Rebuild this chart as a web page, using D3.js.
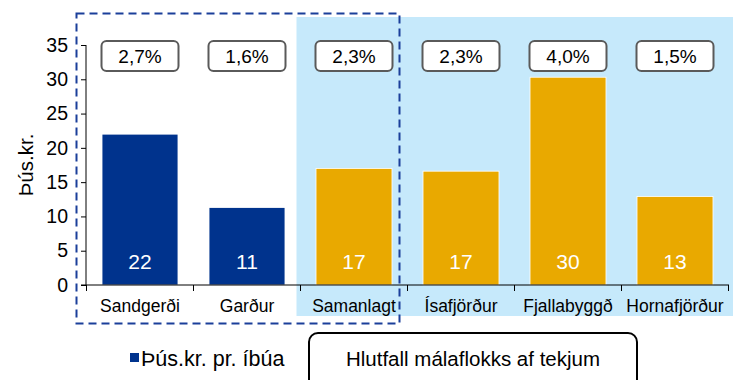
<!DOCTYPE html>
<html>
<head>
<meta charset="utf-8">
<script src="https://cdn.jsdelivr.net/npm/d3@7/dist/d3.min.js"></script>
<style>
  html, body { margin: 0; padding: 0; background: #fff; }
  svg { display: block; font-family: "Liberation Sans", Arial, sans-serif; }
</style>
</head>
<body>
<svg id="chart" width="733" height="380"></svg>
<script>
// Municipal cost per inhabitant (thousand ISK) and share of revenue
const categories = ["Sandgerði", "Garður", "Samanlagt", "Ísafjörður", "Fjallabyggð", "Hornafjörður"];
const perCapita = [22.0, 11.3, 17.0, 16.6, 30.3, 12.9];
const shareLabels = ["2,7%", "1,6%", "2,3%", "2,3%", "4,0%", "1,5%"];
const groups = ["own", "own", "comp", "comp", "comp", "comp"];
const yTicks = [0, 5, 10, 15, 20, 25, 30, 35];
const legendSeries = "Þús.kr. pr. íbúa";
const legendNote = "Hlutfall málaflokks af tekjum";
const yTitle = "Þús.kr.";

const navy = "#00338D";
const gold = "#E9A900";
const pale = "#C6E9FB";

const svg = d3.select("#chart");

const x = d3.scaleBand().domain(categories).range([86.5, 728.5]).paddingInner(0.29).paddingOuter(0.145);
const y = d3.scaleLinear().domain([0, 35]).range([285, 45]);

// Comparison-area backdrop
svg.append("rect")
  .attr("x", x("Samanlagt") - x.step() * 0.145 - 4).attr("y", 17)
  .attr("width", 733).attr("height", 299)
  .attr("fill", pale);

// Bars
svg.selectAll("rect.bar").data(categories).join("rect")
  .attr("class", "bar")
  .attr("x", d => x(d))
  .attr("y", (d, i) => y(perCapita[i]))
  .attr("width", x.bandwidth())
  .attr("height", (d, i) => y(0) - y(perCapita[i]))
  .attr("fill", (d, i) => groups[i] === "own" ? navy : gold)
  .attr("stroke", "#ffffff").attr("stroke-width", 0.8);

// Value labels inside the bars
svg.selectAll("text.val").data(categories).join("text")
  .attr("class", "val")
  .attr("x", d => x(d) + x.bandwidth() / 2)
  .attr("y", 269)
  .attr("text-anchor", "middle")
  .attr("font-size", 21)
  .attr("fill", "#fff")
  .text((d, i) => d3.format(".0f")(perCapita[i]));

// Share-of-revenue boxes
const boxes = svg.selectAll("g.share").data(categories).join("g").attr("class", "share")
  .attr("transform", d => `translate(${x(d) + x.bandwidth() / 2},56)`);
boxes.append("rect")
  .attr("x", -38.5).attr("y", -15).attr("width", 77).attr("height", 30)
  .attr("rx", 5).attr("fill", "#fff").attr("stroke", "#5a5a5a").attr("stroke-width", 2);
boxes.append("text")
  .attr("y", 7).attr("text-anchor", "middle").attr("font-size", 19).attr("fill", "#000")
  .text((d, i) => shareLabels[i]);

// Y axis
const yAxis = svg.append("g").attr("transform", "translate(86,0)")
  .call(d3.axisLeft(y).tickValues(yTicks).tickSize(5).tickPadding(13));
yAxis.select(".domain").attr("stroke", "#000").attr("d", "M0,45V285");
yAxis.selectAll(".tick line").attr("stroke", "#000");
yAxis.selectAll(".tick text").attr("font-size", 19.5).attr("fill", "#000")
  .attr("font-family", "'Liberation Sans', Arial, sans-serif");

// X axis with boundary ticks
const xAxis = svg.append("g").attr("transform", "translate(0,285)");
xAxis.append("line").attr("x1", 81).attr("x2", 729).attr("stroke", "#000");
xAxis.selectAll("line.tk").data(d3.range(categories.length + 1)).join("line")
  .attr("class", "tk")
  .attr("x1", i => 86.5 + i * x.step()).attr("x2", i => 86.5 + i * x.step())
  .attr("y1", 0).attr("y2", 6).attr("stroke", "#000");
xAxis.selectAll("text").data(categories).join("text")
  .attr("x", d => x(d) + x.bandwidth() / 2)
  .attr("y", 26.5)
  .attr("text-anchor", "middle")
  .attr("font-size", 17.5)
  .attr("fill", "#000")
  .text(d => d);

// Y axis title
svg.append("text")
  .attr("transform", "translate(33,165) rotate(-90)")
  .attr("text-anchor", "middle").attr("font-size", 20.5).attr("fill", "#000")
  .text(yTitle);

// Dashed frame around the own-municipality group
svg.append("rect")
  .attr("x", 76.5).attr("y", 13.5).attr("width", 323).attr("height", 310)
  .attr("fill", "none").attr("stroke", "#1B3F9A").attr("stroke-width", 2)
  .attr("stroke-dasharray", "8,5");

// Legend
svg.append("rect").attr("x", 130).attr("y", 353).attr("width", 9).attr("height", 9).attr("fill", navy);
svg.append("text").attr("x", 141).attr("y", 366).attr("font-size", 21.5).attr("fill", "#000").text(legendSeries);
svg.append("rect")
  .attr("x", 309).attr("y", 333).attr("width", 328).attr("height", 60)
  .attr("rx", 9).attr("fill", "#fff").attr("stroke", "#000").attr("stroke-width", 2);
svg.append("text").attr("x", 473).attr("y", 366).attr("text-anchor", "middle")
  .attr("font-size", 20.5).attr("fill", "#000").text(legendNote);
</script>
</body>
</html>
